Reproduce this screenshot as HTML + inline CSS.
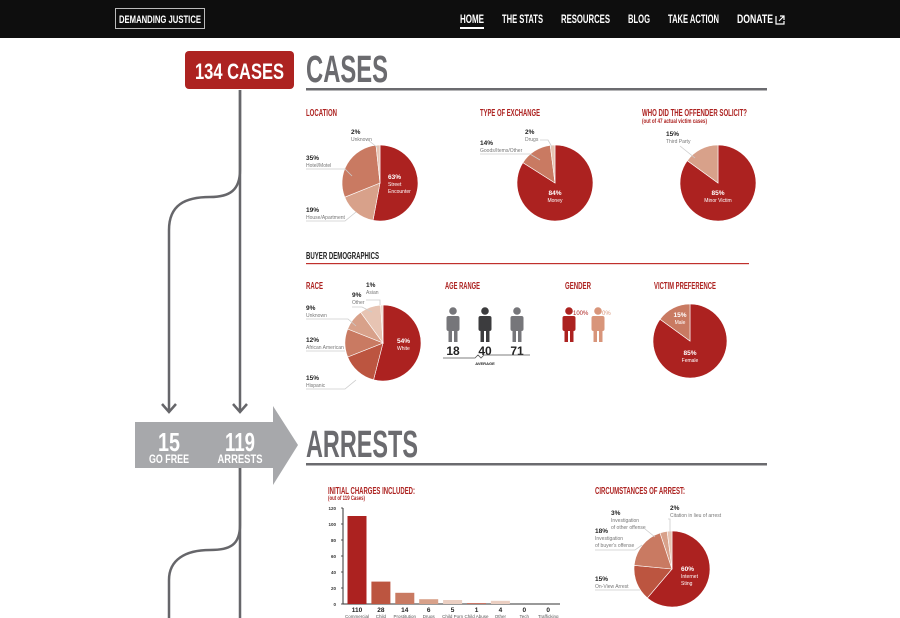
<!DOCTYPE html>
<html><head><meta charset="utf-8"><style>
html,body{margin:0;padding:0;background:#fff;width:900px;height:618px;overflow:hidden}
svg{display:block}
.n{font-family:"Liberation Sans Narrow","Liberation Sans",sans-serif}
.s{font-family:"Liberation Sans",sans-serif}
</style></head><body>
<svg id="root" width="900" height="618" viewBox="0 0 900 618" xmlns="http://www.w3.org/2000/svg">
<rect x="0" y="0" width="900" height="38" fill="#0e0e0e"/>
<g>
<rect x="115.5" y="8.5" width="89" height="20" fill="none" stroke="#bbb" stroke-width="1"/>
<text x="160" y="23" text-anchor="middle" class="n" font-size="11" font-weight="bold" fill="#fff" textLength="82" lengthAdjust="spacingAndGlyphs">DEMANDING JUSTICE</text>
</g>
<g class="n" font-size="12" fill="#fff" font-weight="bold">
<text x="460" y="23" textLength="24" lengthAdjust="spacingAndGlyphs">HOME</text>
<rect x="460" y="27" width="24" height="2" fill="#fff"/>
<text x="502" y="23" textLength="41" lengthAdjust="spacingAndGlyphs">THE STATS</text>
<text x="561" y="23" textLength="49" lengthAdjust="spacingAndGlyphs">RESOURCES</text>
<text x="628" y="23" textLength="22" lengthAdjust="spacingAndGlyphs">BLOG</text>
<text x="668" y="23" textLength="51" lengthAdjust="spacingAndGlyphs">TAKE ACTION</text>
<text x="737" y="23" textLength="36" lengthAdjust="spacingAndGlyphs" font-weight="900">DONATE</text>
<path d="M776 16v8h8v-3M780 16h4v4M784 16l-5 5" stroke="#fff" stroke-width="1.2" fill="none"/>
</g>

<g stroke="#66666a" stroke-width="2.5" fill="none">
<path d="M240 90V170C240 190 230 197 210 197C185 197 169 205 169 230V412"/>
<path d="M240 90V412"/>
<path d="M162 404L169 412L176 404M233 404L240 412L247 404"/>
<path d="M240 468V525C240 545 230 550 210 550C185 550 169 560 169 580V618"/>
<path d="M240 468V618"/>
</g>
<g>
<rect x="185" y="51" width="109" height="38" rx="4" fill="#ad2321"/>
<text x="239.5" y="79" text-anchor="middle" class="n" font-size="22" font-weight="bold" fill="#fff" textLength="89" lengthAdjust="spacingAndGlyphs">134 CASES</text>
</g>
<text x="306" y="82" class="n" font-size="38" font-weight="bold" fill="#6b6b6f" textLength="82" lengthAdjust="spacingAndGlyphs">CASES</text>
<rect x="306" y="88" width="461" height="2.5" fill="#6b6b6f"/>

<g>
<path d="M135 422H273V406L298 445L273 485V468H135Z" fill="#a7a8ab"/>
<text x="169" y="451" text-anchor="middle" class="n" font-size="26" font-weight="bold" fill="#fff" textLength="22" lengthAdjust="spacingAndGlyphs">15</text>
<text x="169" y="463" text-anchor="middle" class="n" font-size="12" font-weight="bold" fill="#fff" textLength="40" lengthAdjust="spacingAndGlyphs">GO FREE</text>
<text x="240" y="451" text-anchor="middle" class="n" font-size="26" font-weight="bold" fill="#fff" textLength="30" lengthAdjust="spacingAndGlyphs">119</text>
<text x="240" y="463" text-anchor="middle" class="n" font-size="12" font-weight="bold" fill="#fff" textLength="45" lengthAdjust="spacingAndGlyphs">ARRESTS</text>
</g>
<text x="306" y="457" class="n" font-size="38" font-weight="bold" fill="#6b6b6f" textLength="112" lengthAdjust="spacingAndGlyphs">ARRESTS</text>
<rect x="306" y="463" width="461" height="2.5" fill="#6b6b6f"/>

<g class="n" font-size="10" fill="#ad2321" font-weight="bold">
<text x="306" y="116" textLength="31" lengthAdjust="spacingAndGlyphs">LOCATION</text>
<text x="480" y="116" textLength="60" lengthAdjust="spacingAndGlyphs">TYPE OF EXCHANGE</text>
<text x="642" y="116" textLength="105" lengthAdjust="spacingAndGlyphs">WHO DID THE OFFENDER SOLICIT?</text>
<text x="642" y="123" font-size="6" textLength="65" lengthAdjust="spacingAndGlyphs">(out of 47 actual victim cases)</text>
<text x="306" y="289" textLength="17" lengthAdjust="spacingAndGlyphs">RACE</text>
<text x="445" y="289" textLength="35" lengthAdjust="spacingAndGlyphs">AGE RANGE</text>
<text x="565" y="289" textLength="26" lengthAdjust="spacingAndGlyphs">GENDER</text>
<text x="654" y="289" textLength="62" lengthAdjust="spacingAndGlyphs">VICTIM PREFERENCE</text>
<text x="328" y="494" textLength="87" lengthAdjust="spacingAndGlyphs">INITIAL CHARGES INCLUDED:</text>
<text x="328" y="500" font-size="6" textLength="37" lengthAdjust="spacingAndGlyphs">(out of 119 Cases)</text>
<text x="595" y="494" textLength="90" lengthAdjust="spacingAndGlyphs">CIRCUMSTANCES OF ARREST:</text>
</g>
<text x="306" y="259" class="n" font-size="10" font-weight="bold" fill="#222" textLength="73" lengthAdjust="spacingAndGlyphs">BUYER DEMOGRAPHICS</text>
<rect x="306" y="263" width="443" height="1.2" fill="#c0302c"/>

<g id="pies"></g>
<g id="figs"></g>
<g id="bars"></g>
</svg>
<script>
const locLabels=["Street Encounter","House/Apartment","Hotel/Motel","Unknown"];
const locValues=[63,19,35,2];
const exLabels=["Money","Goods/Items/Other","Drugs"];
const exValues=[84,14,2];
const solLabels=["Minor Victim","Third Party"];
const solValues=[85,15];
const raceLabels=["White","Hispanic","African American","Unknown","Other","Asian"];
const raceValues=[54,15,12,9,9,1];
const prefLabels=["Female","Male"];
const prefValues=[85,15];
const circLabels=["Internet Sting","On-View Arrest","Investigation of buyer's offense","Investigation of other offense","Citation in lieu of arrest"];
const circValues=[60,15,18,3,2];
const barCats=["Commercial","Child","Prostitution","Drugs","Child Porn","Child Abuse","Other","Tech","Trafficking"];
const barValues=[110,28,14,6,5,1,4,0,0];
const yTicks=[0,20,40,60,80,100,120];
const ages=[18,40,71];

const NS="http://www.w3.org/2000/svg";
const cols=["#ac2220","#bc5540","#c97a62","#d8a18a","#e7c4b3","#efd9cc"];
function mk(tag,attrs,parent){const e=document.createElementNS(NS,tag);for(const k in attrs)e.setAttribute(k,attrs[k]);parent.appendChild(e);return e;}
const pies=document.getElementById('pies');
function pie(cx,cy,r,vals,labels,name,colorIdx){
  const g=mk('g',{},pies);
  
  
  const tot=vals.reduce((a,b)=>a+b,0);let a0=-Math.PI/2;
  vals.forEach((v,i)=>{
    const a1=a0+v/tot*2*Math.PI;
    const x0=cx+r*Math.cos(a0),y0=cy+r*Math.sin(a0),x1=cx+r*Math.cos(a1),y1=cy+r*Math.sin(a1);
    const large=(a1-a0)>Math.PI?1:0;
    const p=mk('path',{d:`M${cx} ${cy}L${x0} ${y0}A${r} ${r} 0 ${large} 1 ${x1} ${y1}Z`,fill:cols[colorIdx?colorIdx[i]:i],stroke:'#fff','stroke-width':0.6},g);
    
    
    a0=a1;
  });
  return g;
}
function lbl(x,y,pct,sub,color,anchor){
  const t=mk('text',{x:x,y:y,'font-size':6.5,'font-weight':'bold',fill:color||'#222','text-anchor':anchor||'start',class:'s'},pies);
  t.textContent=pct;
  
  
  const s=mk('text',{x:x,y:y+7,'font-size':5,fill:color?color:'#777','text-anchor':anchor||'start',class:'s'},pies);
  s.textContent=sub;
  
  
}
function leader(d){const p=mk('path',{d:d,stroke:'#ccc','stroke-width':0.8,fill:'none'},pies);}
pie(380,183,38,locValues,locLabels,'location-pie',[0,3,2,4]);
lbl(388,179,"63%","Street","#fff");mk('text',{x:388,y:193,'font-size':5,fill:'#fff',class:'s'},pies).textContent="Encounter";
lbl(351,134,"2%","Unknown");lbl(306,160,"35%","Hotel/Motel");lbl(306,212,"19%","House/Apartment");
leader("M306 169H345L352 176");leader("M306 221H345L356 212");leader("M368 140L378 148");
pie(555,183,38,exValues,exLabels,'exchange-pie',[0,2,4]);
lbl(555,195,"84%","Money","#fff","middle");lbl(525,134,"2%","Drugs");lbl(480,145,"14%","Goods/Items/Other");
leader("M480 154H530L540 160");leader("M540 140H548L552 147");
pie(718,183,38,solValues,solLabels,'solicit-pie',[0,3]);
lbl(718,195,"85%","Minor Victim","#fff","middle");lbl(666,136,"15%","Third Party");leader("M680 146L695 158");
pie(383,343,38,raceValues,raceLabels,'race-pie',[0,1,2,3,4,5]);
lbl(397,343,"54%","White","#fff");lbl(366,287,"1%","Asian");lbl(352,297,"9%","Other");lbl(306,310,"9%","Unknown");lbl(306,342,"12%","African American");lbl(306,380,"15%","Hispanic");
leader("M366 300H380V305");leader("M352 307H362L372 312");leader("M306 319H348L356 326");leader("M306 351H345");leader("M306 389H345L356 380");
pie(690,341,37,prefValues,prefLabels,'victim-pref-pie',[0,2]);
lbl(690,355,"85%","Female","#fff","middle");lbl(680,317,"15%","Male","#fff","middle");
pie(672,569,38,circValues,circLabels,'circumstances-pie',[0,1,2,3,4]);
lbl(681,571,"60%","Internet","#fff");mk('text',{x:681,y:585,'font-size':5,fill:'#fff',class:'s'},pies).textContent="Sting";
lbl(670,510,"2%","Citation in lieu of arrest");lbl(611,515,"3%","Investigation");mk('text',{x:611,y:529,'font-size':5,fill:'#777',class:'s'},pies).textContent="of other offense";
lbl(595,533,"18%","Investigation");mk('text',{x:595,y:547,'font-size':5,fill:'#777',class:'s'},pies).textContent="of buyer's offense";
lbl(595,581,"15%","On-View Arrest");
leader("M595 550H635L642 545");leader("M595 590H640");leader("M668 519H670V533");leader("M645 529L655 537");

const figs=document.getElementById('figs');
function person(x,y,col,name){
  const g=mk('g',{fill:col},figs);
  
  
  mk('circle',{cx:x,cy:y+4,r:3.8},g);
  mk('rect',{x:x-6.5,y:y+9,width:13,height:15,rx:2},g);
  mk('rect',{x:x-4.5,y:y+23,width:3.5,height:12},g);
  mk('rect',{x:x+1,y:y+23,width:3.5,height:12},g);
}
const ageCols=["#76767a","#3c3c3e","#76767a"];
ages.forEach((a,i)=>{
  const x=453+i*32;
  person(x,307,ageCols[i],'age-figure-'+a);
  const t=mk('text',{x:x,y:355,'text-anchor':'middle','font-size':12,'font-weight':'bold',fill:'#222',class:'n'},figs);
  t.textContent=a;
  
  
});
const ax=mk('path',{d:'M443 358H475l3-3 3 3 3-3H530',stroke:'#555','stroke-width':0.8,fill:'none'},figs);

const av=mk('text',{x:485,y:365,'text-anchor':'middle','font-size':4,'font-weight':'bold',fill:'#222',class:'s'},figs);av.textContent="AVERAGE";

person(569,307,'#ac2220','gender-male-figure');person(598,307,'#d8957a','gender-female-figure');
const g1=mk('text',{x:573,y:315,'font-size':6,fill:'#ac2220',class:'s'},figs);g1.textContent="100%";

const g2=mk('text',{x:602,y:315,'font-size':6,fill:'#d8957a',class:'s'},figs);g2.textContent="0%";


const bars=document.getElementById('bars');
const y0=604,yTop=508,vMax=120;
const yScale=v=>y0-(v/vMax)*(y0-yTop);
const xScale=i=>357+i*23.9;
const axl=mk('path',{d:`M343 ${yTop}V${y0}H560`,stroke:'#333','stroke-width':1,fill:'none'},bars);

yTicks.forEach(t=>{
  const tx=mk('text',{x:336,y:yScale(t)+2,'text-anchor':'end','font-size':4.5,'font-weight':'bold',fill:'#333',class:'s'},bars);
  tx.textContent=t;
  
  
  const tk=mk('line',{x1:341,x2:343,y1:yScale(t),y2:yScale(t),stroke:'#333','stroke-width':0.8},bars);
  
});
const barCols=["#ac2220","#bc5540","#c97a62","#d8a18a","#ebcfc2","#bc5540","#ebcfc2","#eee","#eee"];
barCats.forEach((c,i)=>{
  const x=xScale(i);
  const r=mk('rect',{x:x-9.5,y:yScale(barValues[i]),width:19,height:Math.max(0,y0-yScale(barValues[i])),fill:barCols[i]},bars);
  
  
  const v=mk('text',{x:x,y:612,'text-anchor':'middle','font-size':6.5,'font-weight':'bold',fill:'#222',class:'s'},bars);
  v.textContent=barValues[i];
  
  const l=mk('text',{x:x,y:618,'text-anchor':'middle','font-size':4.5,fill:'#555',class:'s'},bars);
  l.textContent=c;
  
});
</script>
</body></html>
